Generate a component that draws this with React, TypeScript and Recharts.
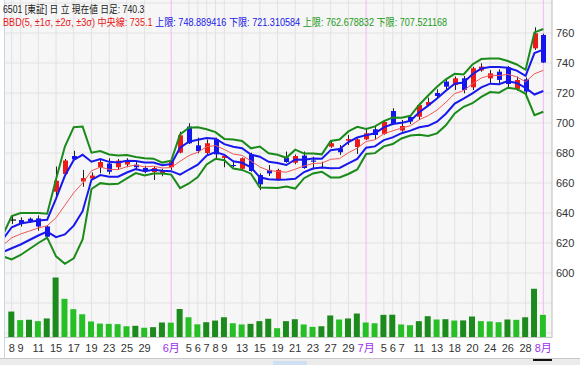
import { Bar, CartesianGrid, Cell, ComposedChart, Line, XAxis, YAxis } from "recharts";

// first row (5/2) only carries the band values that show at the left edge
const dates = [
  "5/2",
  "5/8", "5/9", "5/10", "5/11", "5/12", "5/15", "5/16", "5/17", "5/18", "5/19",
  "5/22", "5/23", "5/24", "5/25", "5/26", "5/29", "5/30", "5/31", "6/1", "6/2",
  "6/5", "6/6", "6/7", "6/8", "6/9", "6/12", "6/13", "6/14", "6/15", "6/16",
  "6/19", "6/20", "6/21", "6/22", "6/23", "6/26", "6/27", "6/28", "6/29", "6/30",
  "7/3", "7/4", "7/5", "7/6", "7/7", "7/10", "7/11", "7/12", "7/13", "7/14",
  "7/18", "7/19", "7/20", "7/21", "7/24", "7/25", "7/26", "7/27", "7/28", "7/31",
  "8/1",
];

const open = [
  null,
  635.3, 635.3, 636.2, 636.4, 631, 654.2, 666, 678, 661, 663,
  670.5, 673, 670.5, 672.3, 672.2, 670, 667.3, 666, 670.5, 680.2,
  697.6, 685.1, 680, 689.1, 676.7, 672, 669.5, 679.1, 665.3, 668.7,
  662.5, 677, 673.5, 678.3, 675, 670.7, 684.2, 683.1, 688.2, 684,
  689.1, 695.8, 692.7, 708, 695, 704, 704.2, 711.8, 720, 727.6,
  725.3, 729.8, 723.8, 735, 729.8, 734.2, 737.1, 722.7, 729.1, 749.8,
  758.7,
];
const high = [
  null,
  638, 637.1, 637, 638.4, 632, 671, 676, 681.5, 668.7, 667,
  675.3, 676.5, 676, 676.5, 674, 671.5, 671.3, 669.5, 676.5, 694.2,
  699.8, 690.2, 689, 690.2, 678.7, 675, 677, 680.2, 666.4, 672,
  669.5, 681, 679, 681, 677.5, 674.2, 688, 685.3, 692, 689.8,
  696.5, 698.7, 702, 709.8, 702, 705.3, 713.1, 717, 722.5, 729,
  731, 731.3, 737.5, 739.8, 735.3, 735.8, 738, 730.9, 730.4, 763.8,
  759.5,
];
const low = [
  null,
  632.7, 631, 633.5, 628.2, 622, 651.3, 665, 675.3, 657.5, 662.5,
  666.5, 665.8, 669, 670.5, 668.5, 666.5, 662, 664.5, 668.7, 679.8,
  686, 679.8, 679, 676.5, 670.5, 670.5, 668.5, 667.5, 655.3, 664.7,
  661.5, 673.5, 672.5, 669.5, 669.1, 669.8, 683.5, 678.7, 685.3, 679.3,
  688.7, 689.1, 692.2, 698.7, 694.2, 699.3, 702, 711.3, 717, 722.5,
  722, 719.8, 722, 734.2, 726.4, 726, 723.1, 721.5, 716.5, 748.7,
  740,
];
const close = [
  null,
  635.3, 632.7, 634.5, 631, 624.2, 661.5, 675, 675.8, 663.3, 665,
  674, 667.5, 674.9, 674.2, 670.5, 667.8, 670, 668.5, 674.5, 691.8,
  686.5, 681.3, 686.5, 679.1, 678.2, 671.5, 676.5, 668, 659.1, 666.4,
  668.7, 674, 678, 670, 674.2, 670.5, 686.5, 680.5, 689.3, 689.1,
  693.1, 692, 700.7, 699.3, 698, 701, 712, 714, 718, 724.2,
  729.8, 722, 736.5, 737.6, 733.1, 728.7, 726, 728.7, 720.9, 759.8,
  740.3,
];

// 出来高 (百万株)
const volume = [
  null,
  17.3, 11.6, 11.8, 10.9, 12.7, 40.0, 25.8, 18.9, 15.5, 10.7,
  9.3, 9.1, 8.9, 7.5, 7.8, 6.5, 6.9, 10.0, 9.9, 19.0,
  13.5, 8.8, 10.2, 11.3, 13.5, 9.5, 8.7, 9.1, 10.9, 12.5,
  6.2, 10.9, 12.2, 8.7, 7.1, 7.5, 14.7, 12.0, 12.7, 16.0,
  10.0, 9.5, 15.1, 15.2, 8.7, 8.2, 10.9, 14.2, 12.0, 12.2,
  11.3, 11.4, 14.0, 10.9, 10.7, 10.2, 12.0, 11.8, 13.5, 32.5,
  15.1,
];

const bbMid = [
  618.5,
  623.5, 626, 628, 630, 631.5, 636.8, 645.2, 653.5, 660.0, 668.1,
  670.6, 669.1, 668.9, 670.9, 672.0, 670.7, 671.2, 670.0, 670.3, 674.5,
  678.3, 680.5, 684.1, 685.0, 682.3, 679.3, 678.4, 674.7, 670.7, 668.3,
  667.7, 667.2, 669.2, 671.4, 673.0, 673.3, 675.8, 676.3, 680.2, 683.2,
  687.7, 688.8, 692.8, 694.8, 696.6, 698.2, 702.2, 704.9, 708.6, 713.8,
  719.6, 721.6, 726.1, 730.0, 731.8, 731.6, 732.4, 730.8, 727.5, 732.8,
  735.1,
];
const bbUp1 = [
  622.5,
  630.5, 633, 634, 635, 635.5, 649.6, 664.8, 675.4, 678.8, 674.2,
  676.0, 674.1, 673.6, 674.8, 674.7, 673.6, 673.7, 671.8, 672.6, 683.5,
  687.5, 688.8, 690.0, 689.5, 685.9, 684.2, 683.2, 678.9, 677.5, 674.1,
  673.3, 672.0, 675.7, 675.5, 676.3, 676.2, 681.9, 682.7, 687.3, 690.3,
  691.9, 693.2, 697.1, 699.3, 700.1, 701.5, 707.2, 711.6, 716.3, 721.5,
  726.2, 727.0, 732.5, 736.3, 737.4, 737.3, 736.8, 734.9, 731.5, 746.6,
  748.9,
];
const bbLow1 = [
  614.0,
  616.5, 619, 622, 625, 627.6, 623.9, 625.7, 631.6, 641.2, 662.1,
  665.3, 664.2, 664.2, 667.0, 669.3, 667.9, 668.8, 668.2, 667.9, 665.6,
  669.0, 672.2, 678.3, 680.6, 678.8, 674.5, 673.5, 670.4, 663.8, 662.5,
  662.2, 662.4, 662.8, 667.3, 669.7, 670.4, 669.8, 670.0, 673.1, 676.1,
  683.5, 684.4, 688.6, 690.4, 693.2, 694.9, 697.2, 698.1, 700.9, 706.2,
  713.0, 716.2, 719.7, 723.7, 726.2, 725.9, 727.9, 726.7, 723.5, 719.0,
  721.3,
];
const bbUp2 = [
  625.4,
  638, 640, 640, 640, 639.5, 662.5, 684.3, 697.2, 697.6, 680.2,
  681.3, 679.0, 678.3, 678.7, 677.3, 676.5, 676.2, 673.6, 674.9, 692.4,
  696.8, 697.1, 695.8, 693.9, 689.4, 689.0, 688.0, 683.1, 684.3, 679.8,
  678.8, 676.8, 682.2, 679.6, 679.6, 679.1, 688.0, 689.0, 694.4, 697.4,
  696.0, 697.7, 701.3, 703.7, 703.5, 704.8, 712.2, 718.3, 724.1, 729.1,
  732.8, 732.4, 739.0, 742.6, 743.0, 743.0, 741.3, 739.0, 735.5, 760.4,
  762.7,
];
const bbLow2 = [
  611.1,
  609, 612, 616, 620, 623.6, 611.1, 606.1, 609.8, 622.3, 656.0,
  659.9, 659.2, 659.5, 663.1, 666.6, 665.0, 666.3, 666.3, 665.6, 656.6,
  659.7, 663.9, 672.4, 676.1, 675.2, 669.6, 668.7, 666.2, 657.0, 656.8,
  656.6, 657.6, 656.3, 663.2, 666.4, 667.5, 663.7, 663.7, 666.0, 669.0,
  679.4, 679.9, 684.4, 686.0, 689.7, 691.6, 692.2, 691.4, 693.1, 698.5,
  706.4, 710.8, 713.2, 717.4, 720.6, 720.2, 723.5, 722.7, 719.5, 705.2,
  707.5,
];

const tickIdx = [0, 1, 3, 5, 7, 9, 11, 13, 15, 18, 20, 21, 22, 23, 24, 26, 28, 30, 32, 34, 36, 38, 40, 42, 43, 44, 46, 48, 50, 52, 54, 56, 58, 60];
const tickText = ["8", "9", "11", "15", "17", "19", "23", "25", "29", "6月", "5", "6", "7", "8", "9", "13", "15", "19", "21", "23", "27", "29", "7月", "5", "6", "7", "11", "13", "18", "20", "24", "26", "28", "8月"];
const monthIdx = [18, 40, 60];
const priceTicks = [600, 620, 640, 660, 680, 700, 720, 740, 760];
const gridPrices = [560, 580, 600, 620, 640, 660, 680, 700, 720, 740, 760, 780];

const RED = "#ee1a1a";
const BLUE = "#1414ec";
const FONT = "'Liberation Sans', 'Noto Sans CJK JP', sans-serif";

const rows = dates.map((d, k) => ({
  i: k - 1,
  d,
  o: open[k],
  h: high[k],
  l: low[k],
  c: close[k],
  range: high[k] == null ? null : [low[k], high[k]],
  vol: volume[k],
  volUp: k <= 1 || (volume[k] ?? 0) > (volume[k - 1] ?? 0),
  mid: bbMid[k],
  up1: bbUp1[k],
  low1: bbLow1[k],
  up2: bbUp2[k],
  low2: bbLow2[k],
}));

function Candle(props: any) {
  const { x, y, width, height, payload } = props;
  if (!payload || payload.h == null) return null;
  const { o, h, l, c } = payload;
  const cx = Math.round(x + width / 2) + 0.5;
  const py = (v: number) => y + ((h - v) / (h - l)) * height;
  const top = py(Math.max(o, c));
  const bot = py(Math.min(o, c));
  const color = c > o ? RED : c < o ? BLUE : "#111";
  return (
    <g>
      <line x1={cx} x2={cx} y1={y} y2={y + height} stroke="#222" strokeWidth={1} />
      {c === o ? (
        <line x1={cx - 3.5} x2={cx + 3.5} y1={top} y2={top} stroke="#111" strokeWidth={1.2} />
      ) : (
        <rect x={cx - 2.5} y={top} width={5} height={Math.max(1, bot - top)} fill={color} />
      )}
    </g>
  );
}

function DateTick({ x, y, payload }: any) {
  const k = tickIdx.indexOf(payload.value);
  const label = tickText[k] ?? "";
  const month = label.includes("月");
  return (
    <text x={x} y={y + 14.5} textAnchor="middle" fontSize={11} fontFamily={FONT} fill={month ? "#9b30ee" : "#333"}>
      {label}
    </text>
  );
}

function PriceTick({ x, y, payload }: any) {
  return (
    <text x={x + 4} y={y + 4} fontSize={11} fontFamily={FONT} fill="#333">
      {payload.value}
    </text>
  );
}

export default function App() {
  return (
    <div style={{ position: "absolute", left: 0, top: 0, width: 580, height: 365, background: "#fff", overflow: "hidden", fontFamily: FONT }}>
      <ComposedChart width={580} height={365} data={rows} margin={{ top: 0, right: 0, bottom: 0, left: 5 }}>
        <CartesianGrid fill="#f6f6f6" stroke="#e2e2e2" horizontalValues={gridPrices} verticalValues={tickIdx.filter((t) => !monthIdx.includes(t))} />
        <CartesianGrid fill="none" stroke="#f2b8f2" horizontal={false} verticalValues={monthIdx} />
        <XAxis
          dataKey="i"
          type="number"
          domain={[-0.76, 60.98]}
          allowDataOverflow
          ticks={tickIdx}
          interval={0}
          height={27.5}
          tickSize={0}
          tickMargin={0}
          tickLine={false}
          axisLine={{ stroke: "#c8c8c8" }}
          tick={<DateTick />}
        />
        <XAxis xAxisId="v" dataKey="i" type="number" domain={[-0.76, 60.98]} allowDataOverflow hide />
        <YAxis
          orientation="right"
          type="number"
          domain={[557, 782]}
          allowDataOverflow
          ticks={priceTicks}
          interval={0}
          width={28}
          tickSize={0}
          tickMargin={0}
          tickLine={false}
          axisLine={{ stroke: "#bdbdbd" }}
          tick={<PriceTick />}
        />
        <YAxis yAxisId="v" type="number" domain={[0, 225]} hide />
        <Bar xAxisId="v" yAxisId="v" dataKey="vol" barSize={6} isAnimationActive={false}>
          {rows.map((r) => (
            <Cell key={r.i} fill={r.volUp ? "#1c8a1c" : "#26c026"} />
          ))}
        </Bar>
        <Line dataKey="up2" stroke="#1a8a1a" strokeWidth={2} dot={false} isAnimationActive={false} />
        <Line dataKey="low2" stroke="#1a8a1a" strokeWidth={2} dot={false} isAnimationActive={false} />
        <Line dataKey="up1" stroke="#1818ee" strokeWidth={2} dot={false} isAnimationActive={false} />
        <Line dataKey="low1" stroke="#1818ee" strokeWidth={2} dot={false} isAnimationActive={false} />
        <Line dataKey="mid" stroke="#f25555" strokeWidth={1} dot={false} isAnimationActive={false} />
        <Bar dataKey="range" barSize={5} shape={<Candle />} isAnimationActive={false} />
      </ComposedChart>

      <div style={{ position: "absolute", left: 4, top: 0, width: 1, height: 358, background: "#c9d6e4" }} />
      <div style={{ position: "absolute", left: 3, top: 2.5, fontSize: 10.5, lineHeight: "13px", color: "#222", whiteSpace: "nowrap", transform: "scaleX(0.83)", transformOrigin: "0 0" }}>
        6501 [東証] 日 立 現在値 日足: 740.3
      </div>
      <div style={{ position: "absolute", left: 3, top: 15.5, fontSize: 10.5, lineHeight: "13px", whiteSpace: "nowrap", transform: "scaleX(0.866)", transformOrigin: "0 0" }}>
        <span style={{ color: "#e81818" }}>BBD(5, ±1σ, ±2σ, ±3σ) 中央線: 735.1 </span>
        <span style={{ color: "#2020e8" }}>上限: 748.889416 下限: 721.310584 </span>
        <span style={{ color: "#1a9a1a" }}>上限: 762.678832 下限: 707.521168</span>
      </div>

      <div style={{ position: "absolute", left: 0, top: 358, width: 580, height: 7, background: "#ebebeb", borderTop: "1px solid #c8c8c8", boxSizing: "border-box" }} />
      <div style={{ position: "absolute", left: 273, top: 361, width: 34, height: 4, background: "#cfe0f2" }} />
      <div style={{ position: "absolute", left: 533, top: 359, width: 19, height: 2, background: "#111" }} />
    </div>
  );
}
